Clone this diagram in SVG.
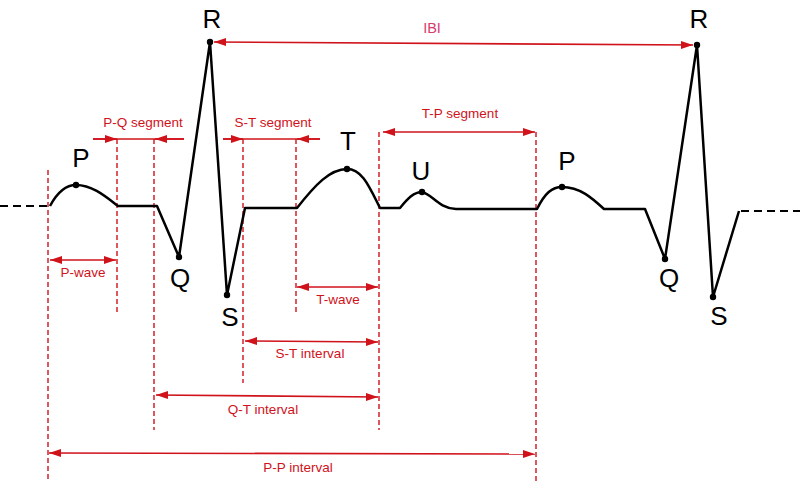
<svg xmlns="http://www.w3.org/2000/svg" width="800" height="481" viewBox="0 0 800 481">
<style>
.ecg{fill:none;stroke:#000;stroke-width:2.5;stroke-linejoin:round}
.base{fill:none;stroke:#000;stroke-width:2.2;stroke-dasharray:8,5}
.guide{fill:none;stroke:#d0121b;stroke-width:1.4;stroke-dasharray:5,3}
.dim{fill:none;stroke:#d0121b;stroke-width:1.6}
.arr{marker-end:url(#ah)}
.arr2{marker-start:url(#ah);marker-end:url(#ah)}
.lbl{font-family:"Liberation Sans",Arial,sans-serif;font-size:26px;fill:#000;text-anchor:middle}
.rl{font-family:"Liberation Sans",Arial,sans-serif;font-size:13.5px;fill:#d0121b;text-anchor:middle}
.dot{fill:#000}
</style>
<defs>
<marker id="ah" markerUnits="userSpaceOnUse" markerWidth="13" markerHeight="9" refX="12" refY="4.5" orient="auto-start-reverse" viewBox="0 0 13 9">
<path d="M0,0.5 L12,4.5 L0,8.5 z" fill="#d0121b"/>
</marker>
</defs>
<g id="guides">
<line class="guide" x1="48" y1="170" x2="48" y2="481"/>
<line class="guide" x1="117" y1="139" x2="117" y2="313"/>
<line class="guide" x1="154" y1="139" x2="154" y2="430"/>
<line class="guide" x1="243" y1="139" x2="243" y2="383"/>
<line class="guide" x1="296" y1="139" x2="296" y2="313"/>
<line class="guide" x1="379" y1="132" x2="379" y2="430"/>
<line class="guide" x1="536" y1="132" x2="536" y2="481"/>
</g>
<g id="trace">
<line class="base" x1="0" y1="206" x2="48" y2="206"/>
<path class="ecg" d="M50,206 C58,191 66,185 76,185 C92,185 105,196 118,206 L157,206 L179,257 L210,42 L227,295 L245,208 L297,208 C315,185 330,169 347,169 C362,169 369,186 380,208 L400,208 C408,198 414,192 422,192 C432,194 438,208 456,209 L537,209 C545,193 552,187 562,187 C580,187 592,198 604,209 L645,209 L665,259 L697,45 L713,297 L739,211"/>
<line class="base" x1="741" y1="211" x2="800" y2="211"/>
</g>
<g id="points">
<circle class="dot" cx="76" cy="185" r="3.2"/>
<circle class="dot" cx="179" cy="257" r="3.2"/>
<circle class="dot" cx="210" cy="42" r="3.2"/>
<circle class="dot" cx="227" cy="295" r="3.2"/>
<circle class="dot" cx="347" cy="169" r="3.2"/>
<circle class="dot" cx="422" cy="192" r="3.2"/>
<circle class="dot" cx="562" cy="187" r="3.2"/>
<circle class="dot" cx="665" cy="259" r="3.2"/>
<circle class="dot" cx="697" cy="45" r="3.2"/>
<circle class="dot" cx="713" cy="297" r="3.2"/>
</g>
<g id="wave-labels">
<text class="lbl" x="81" y="167">P</text>
<text class="lbl" x="212" y="28">R</text>
<text class="lbl" x="180" y="287">Q</text>
<text class="lbl" x="230" y="326">S</text>
<text class="lbl" x="348" y="150">T</text>
<text class="lbl" x="421" y="180">U</text>
<text class="lbl" x="567" y="170">P</text>
<text class="lbl" x="699" y="28">R</text>
<text class="lbl" x="669" y="287">Q</text>
<text class="lbl" x="719" y="325">S</text>
</g>
<g id="connectors">
<line class="dim arr2" x1="214" y1="42" x2="693" y2="45"/>
<line class="dim" x1="93" y1="139" x2="184" y2="139"/>
<line class="dim arr" x1="93" y1="139" x2="117" y2="139"/>
<line class="dim arr" x1="184" y1="139" x2="155" y2="139"/>
<line class="dim" x1="223" y1="139" x2="320" y2="139"/>
<line class="dim arr" x1="223" y1="139" x2="243" y2="139"/>
<line class="dim arr" x1="320" y1="139" x2="297" y2="139"/>
<line class="dim arr2" x1="383" y1="132" x2="535" y2="132"/>
<line class="dim arr2" x1="50" y1="260" x2="116" y2="260"/>
<line class="dim arr2" x1="297" y1="287" x2="378" y2="287"/>
<line class="dim arr2" x1="245" y1="341" x2="378" y2="342"/>
<line class="dim arr2" x1="156" y1="395" x2="378" y2="397"/>
<line class="dim arr2" x1="49" y1="453" x2="535" y2="454"/>
</g>
<g id="dim-labels">
<text class="rl" x="432" y="33" style="fill:#d63a6e;font-size:14.5px">IBI</text>
<text class="rl" x="143" y="127">P-Q segment</text>
<text class="rl" x="273" y="127">S-T segment</text>
<text class="rl" x="460" y="118">T-P segment</text>
<text class="rl" x="83" y="277">P-wave</text>
<text class="rl" x="338" y="304">T-wave</text>
<text class="rl" x="310" y="358">S-T interval</text>
<text class="rl" x="263" y="414">Q-T interval</text>
<text class="rl" x="298" y="472">P-P interval</text>
</g>
</svg>
